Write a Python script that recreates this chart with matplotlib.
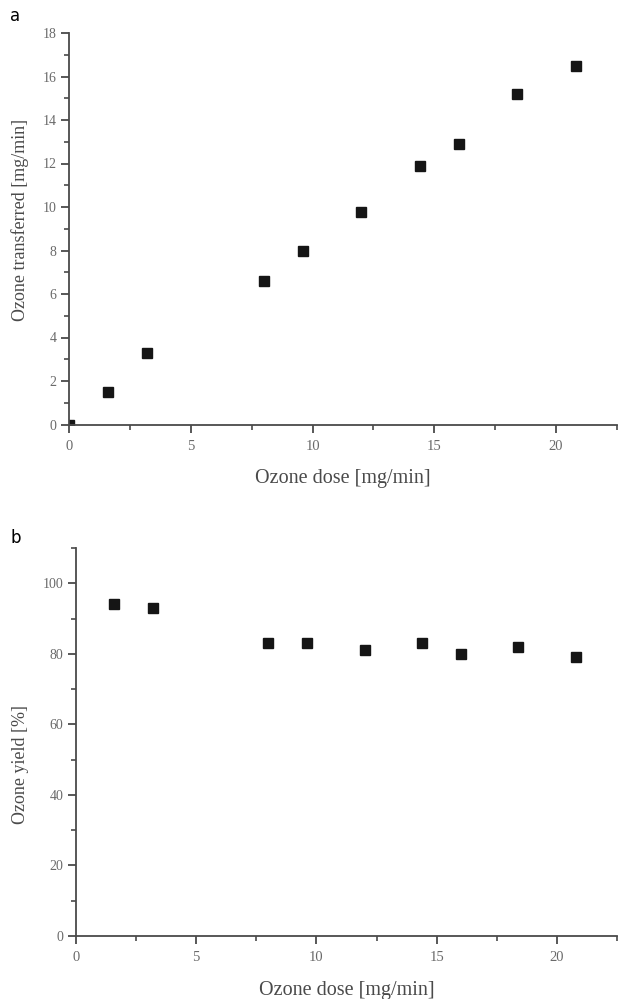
import matplotlib
matplotlib.use("Agg")
import matplotlib.pyplot as plt
from matplotlib.ticker import MultipleLocator

# Data
dose_a = [0.0, 1.6, 3.2, 8.0, 9.6, 12.0, 14.4, 16.0, 18.4, 20.8]
transferred = [0.0, 1.5, 3.3, 6.6, 8.0, 9.75, 11.9, 12.9, 15.2, 16.5]
dose_b = [1.6, 3.2, 8.0, 9.6, 12.0, 14.4, 16.0, 18.4, 20.8]
yield_pct = [94, 93, 83, 83, 81, 83, 80, 82, 79]

xlabel = "Ozone dose [mg/min]"
ylabel_a = "Ozone transferred [mg/min]"
ylabel_b = "Ozone yield [%]"

W, H = 619, 999
fig = plt.figure(figsize=(W / 100, H / 100), dpi=100)

serif = ["Liberation Serif", "DejaVu Serif"]
spine_c = "#4a4a4a"
tick_lab_c = "#6a6a6a"
lab_c = "#4a4a4a"

def style(ax):
    for s in ["top", "right"]:
        ax.spines[s].set_visible(False)
    for s in ["left", "bottom"]:
        ax.spines[s].set_color(spine_c)
        ax.spines[s].set_linewidth(1.3)
    ax.tick_params(which="major", direction="out", length=6, width=1.3,
                   color=spine_c, labelcolor=tick_lab_c, pad=3)
    ax.tick_params(axis="x", which="major", labelsize=10.5, pad=5)
    ax.tick_params(axis="y", which="major", labelsize=10, pad=3)
    ax.tick_params(which="minor", direction="out", length=3.5, width=1.2,
                   color=spine_c)
    for lab in ax.get_xticklabels() + ax.get_yticklabels():
        lab.set_family(serif)

# Panel a
ax1 = fig.add_axes([69 / W, 1 - 424.5 / H, (617 - 69) / W, (424.5 - 33) / H])
ax1.plot(dose_a, transferred, "s", color="#151515", markersize=7, clip_on=True)
ax1.set_xlim(0, 22.5)
ax1.set_ylim(0, 18)
ax1.xaxis.set_major_locator(MultipleLocator(5))
ax1.xaxis.set_minor_locator(MultipleLocator(2.5))
ax1.yaxis.set_major_locator(MultipleLocator(2))
ax1.yaxis.set_minor_locator(MultipleLocator(1))
style(ax1)
ax1.set_xlabel(xlabel, family=serif, fontsize=14.5, color=lab_c, labelpad=12)
ax1.set_ylabel(ylabel_a, family=serif, fontsize=13, color=lab_c)
ax1.yaxis.set_label_coords((29 - 69) / 548, (424.5 - 220) / 391.5)
fig.text(10 / W, 1 - 16 / H, "a", fontsize=12, color="black",
         family="DejaVu Sans", va="center", ha="left")

# Panel b
ax2 = fig.add_axes([76 / W, 1 - 936 / H, (617 - 76) / W, (936 - 548) / H])
ax2.plot(dose_b, yield_pct, "s", color="#151515", markersize=7, clip_on=False)
ax2.set_xlim(0, 22.5)
ax2.set_ylim(0, 110)
ax2.xaxis.set_major_locator(MultipleLocator(5))
ax2.xaxis.set_minor_locator(MultipleLocator(2.5))
ax2.yaxis.set_major_locator(MultipleLocator(20))
ax2.yaxis.set_minor_locator(MultipleLocator(10))
style(ax2)
ax2.set_xlabel(xlabel, family=serif, fontsize=14.5, color=lab_c, labelpad=12)
ax2.set_ylabel(ylabel_b, family=serif, fontsize=13, color=lab_c)
ax2.yaxis.set_label_coords((29 - 76) / 541, (936 - 765) / 388)
fig.text(10 / W, 1 - 538 / H, "b", fontsize=12, color="black",
         family="DejaVu Sans", va="center", ha="left")

fig.savefig("out.png", dpi=100)
